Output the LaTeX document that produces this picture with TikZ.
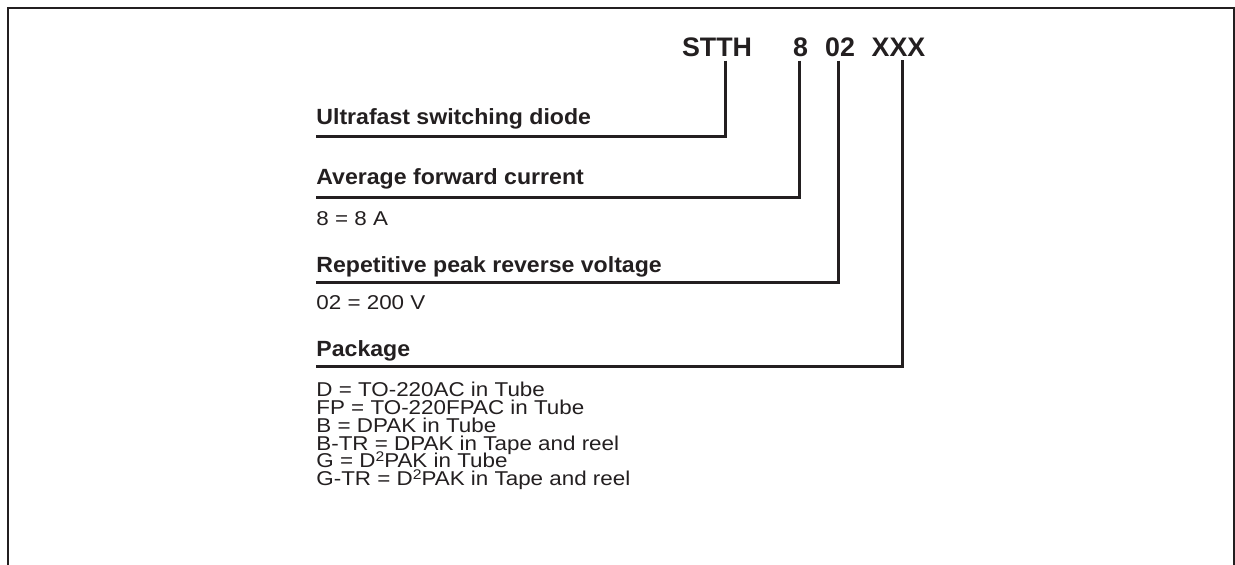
\documentclass[tikz,border=0pt]{standalone}
\usepackage{fontspec}
\setmainfont{Liberation Sans}
\newfontfamily\itemfont[FakeStretch=1.12]{Liberation Sans}
\newfontfamily\headfont[FakeStretch=1.05]{Liberation Sans}
\definecolor{ink}{RGB}{35,31,32}
\newcommand{\sqd}{D\raisebox{3.3pt}{\fontsize{7pt}{7pt}\selectfont 2}}

\begin{document}
\begin{tikzpicture}[x=0.5pt,y=0.5pt,
        code/.style={font=\fontsize{13.4pt}{16pt}\selectfont\bfseries, anchor=base, inner xsep=0pt, inner ysep=1.5pt},
        head/.style={font=\headfont\fontsize{11pt}{13pt}\selectfont\bfseries, anchor=base west},
        item/.style={font=\itemfont\fontsize{10pt}{12pt}\selectfont, anchor=base west},
        lead/.style={ink, line width=1.5pt}]
        \tikzstyle{every node}+=[inner sep=0pt, text=ink]
        \useasboundingbox (0,0) rectangle (1235,-565);
        \draw [ink, line width=1.2pt] (8,-565) -- (8,-8) -- (1234,-8) -- (1234,-565);
        % part number
        \node [code] (stth) at (717,-57) {STTH};
        \node [code] (cur) at (800.5,-57) {8};
        \node [code] (volt) at (840,-57) {02};
        \node [code] (pkg) at (898.5,-57) {XXX};
        % fields
        \node [head] (type) at (316,-125) {Ultrafast switching diode};
        \coordinate (typeline) at (316,-136.7);
        \node [head] (avg) at (316,-185) {Average forward current};
        \coordinate (avgline) at (316,-197.7);
        \node [item] (avgval) at (316,-226) {8 = 8 A};
        \node [head] (vrrm) at (316,-273) {Repetitive peak reverse voltage};
        \coordinate (vrrmline) at (316,-282.7);
        \node [item] (vrrmval) at (316,-310) {02 = 200 V};
        \node [head] (pack) at (316,-357) {Package};
        \coordinate (packline) at (316,-366.5);
        \node [item] (pkgd) at (316,-396.7) {D = TO-220AC in Tube};
        \node [item] (pkgfp) at (316,-414.5) {FP = TO-220FPAC in Tube};
        \node [item] (pkgb) at (316,-432.3) {B = DPAK in Tube};
        \node [item] (pkgbtr) at (316,-450.1) {B-TR = DPAK in Tape and reel};
        \node [item] (pkgg) at (316,-467.9) {G = \sqd PAK in Tube};
        \node [item] (pkggtr) at (316,-485.7) {G-TR = \sqd PAK in Tape and reel};
        % leads
        \draw [lead] ([xshift=4pt]stth.south) |- (typeline);
        \draw [lead] ([xshift=-0.75pt]cur.south) |- (avgline);
        \draw [lead] ([xshift=-1pt]volt.south) |- (vrrmline);
        \draw [lead] ([xshift=1.75pt]pkg.south) |- (packline);
\end{tikzpicture}
\end{document}
